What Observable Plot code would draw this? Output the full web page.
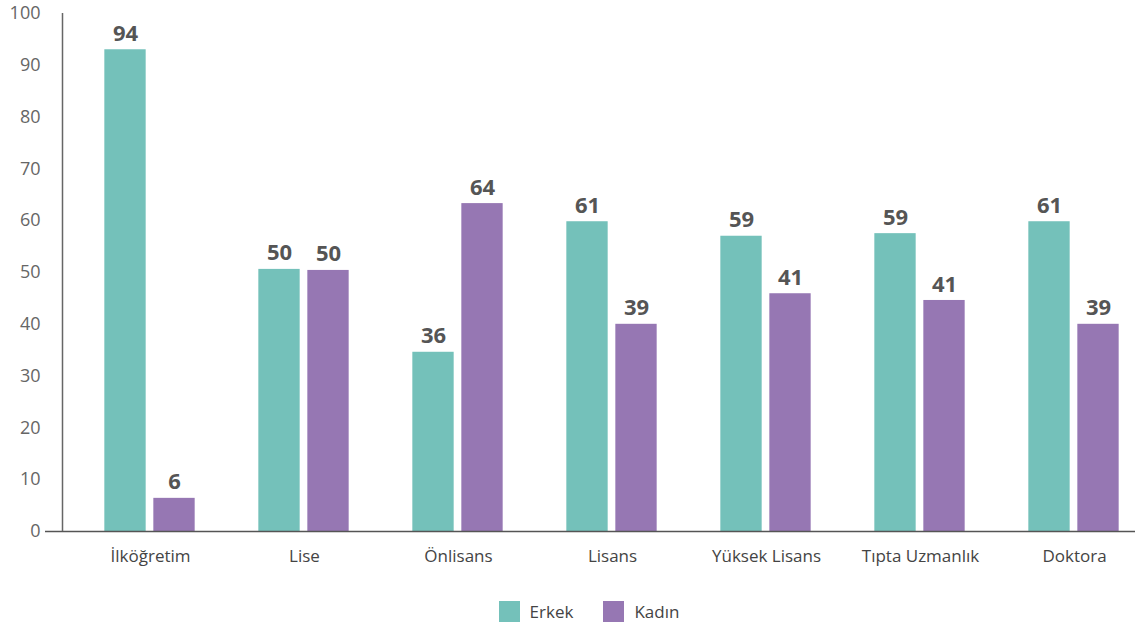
<!DOCTYPE html>
<html>
<head>
<meta charset="utf-8">
<script src="https://cdn.jsdelivr.net/npm/d3@7"></script>
<script src="https://cdn.jsdelivr.net/npm/@observablehq/plot@0.6"></script>
<style>
  body { margin: 0; background: #fff; font-family: "Open Sans", sans-serif; }
  #legend { display: flex; justify-content: center; align-items: center; gap: 30px; margin-top: 24px; margin-left: 38px; font-size: 17px; color: #444; }
  #legend .item { display: flex; align-items: center; gap: 10px; }
  #legend .sw { width: 21px; height: 21px; display: inline-block; }
</style>
</head>
<body>
<div id="chart"></div>
<div id="legend"></div>
<script>
const categories = ["İlköğretim", "Lise", "Önlisans", "Lisans", "Yüksek Lisans", "Tıpta Uzmanlık", "Doktora"];
const series = ["Erkek", "Kadın"];
const colors = ["#74c1ba", "#9677b3"];
// bar heights as drawn in the picture
const erkekBars = [93, 50.6, 34.6, 59.8, 57, 57.5, 59.8];
const kadinBars = [6.4, 50.4, 63.3, 40, 45.9, 44.6, 40];
// value labels printed above the bars
const erkekLabels = [94, 50, 36, 61, 59, 59, 61];
const kadinLabels = [6, 50, 64, 39, 41, 41, 39];
const yTicks = [0, 10, 20, 30, 40, 50, 60, 70, 80, 90, 100];

const erkek = categories.map((c, i) => ({cat: c, v: erkekBars[i], label: erkekLabels[i]}));
const kadin = categories.map((c, i) => ({cat: c, v: kadinBars[i], label: kadinLabels[i]}));

const step = (1076 - 148) / 6;
const chart = Plot.plot({
  width: 1140,
  height: 576,
  marginTop: 13,
  marginBottom: 45,
  marginLeft: 60,
  marginRight: 5,
  style: {fontFamily: "'Open Sans', sans-serif", background: "#fff"},
  x: {domain: categories, range: [148 - step / 2, 1076 + step / 2], padding: 0, label: null},
  y: {domain: [0, 100], label: null},
  marks: [
    Plot.barY(erkek, {x: "cat", y: "v", fill: colors[0], insetLeft: step / 2 - 46, insetRight: step / 2 + 4}),
    Plot.barY(kadin, {x: "cat", y: "v", fill: colors[1], insetLeft: step / 2 + 3, insetRight: step / 2 - 45}),
    Plot.text(erkek, {x: "cat", y: "v", text: "label", dx: -25, dy: -16, fontSize: 22, fontWeight: "bold", fill: "#555"}),
    Plot.text(kadin, {x: "cat", y: "v", text: "label", dx: 24, dy: -16, fontSize: 22, fontWeight: "bold", fill: "#555"}),
    Plot.axisY({ticks: yTicks, tickSize: 0, tickPadding: 20, fontSize: 18, color: "#666", label: null}),
    Plot.axisX({tickSize: 0, tickPadding: 18, fontSize: 17, color: "#444", label: null}),
    Plot.ruleY([0], {stroke: "#555", strokeWidth: 1.5, insetLeft: -15}),
    Plot.ruleX([categories[0]], {x: d => d, y1: 0, y2: 100, dx: 60 - 148, stroke: "#666", strokeWidth: 1.5})
  ]
});
document.getElementById("chart").appendChild(chart);

const legend = document.getElementById("legend");
series.forEach((s, i) => {
  const item = document.createElement("div");
  item.className = "item";
  const sw = document.createElement("span");
  sw.className = "sw";
  sw.style.background = colors[i];
  const t = document.createElement("span");
  t.textContent = s;
  item.appendChild(sw);
  item.appendChild(t);
  legend.appendChild(item);
});
</script>
</body>
</html>
